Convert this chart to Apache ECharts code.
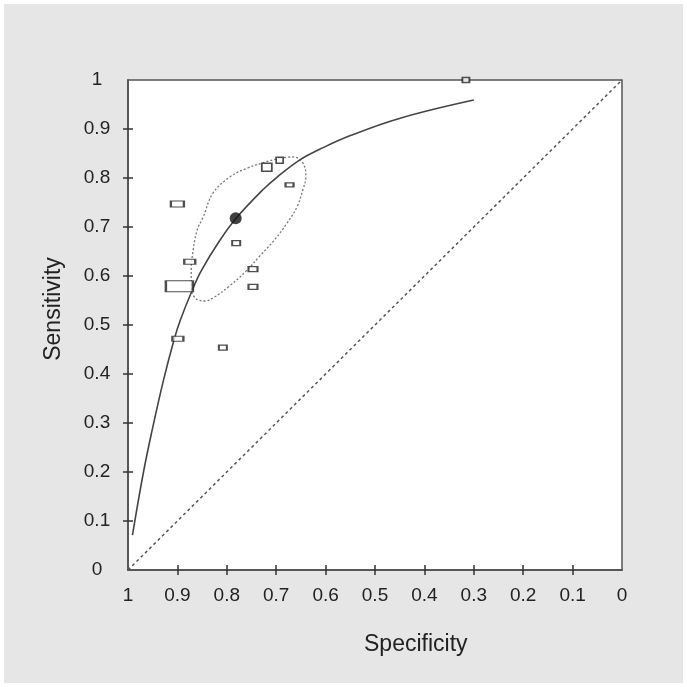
<!DOCTYPE html>
<html>
<head>
<meta charset="utf-8">
<script src="https://cdn.jsdelivr.net/npm/echarts@6/dist/echarts.min.js"></script>
<style>
html,body{margin:0;padding:0;background:#fff;}
#panel{position:absolute;left:4px;top:4px;width:679px;height:679px;background:#e6e6e6;}
#chart{position:absolute;left:0;top:0;width:687px;height:687px;}
</style>
</head>
<body>
<div id="panel"></div>
<div id="chart"></div>
<script>
// Study estimates: specificity, sensitivity, box width/height (study weight)
const studySpec = [0.900, 0.719, 0.693, 0.673, 0.781, 0.875, 0.747, 0.747, 0.896, 0.899, 0.808, 0.316];
const studySens = [0.747, 0.822, 0.836, 0.786, 0.667, 0.629, 0.614, 0.578, 0.579, 0.472, 0.454, 1.000];
const boxW = [13, 10, 7, 8, 8, 11, 9, 9, 27, 11, 8, 7];
const boxH = [6, 8, 6, 4, 5, 5, 5, 5, 11, 5, 5, 5];

// Summary point
const summarySpec = [0.782];
const summarySens = [0.718];

// SROC curve
const curveSpec = [0.991, 0.969, 0.951, 0.928, 0.907, 0.894, 0.870, 0.851, 0.814, 0.781, 0.727, 0.698, 0.652, 0.611, 0.551, 0.449, 0.300];
const curveSens = [0.071, 0.198, 0.286, 0.388, 0.469, 0.510, 0.571, 0.612, 0.673, 0.718, 0.776, 0.802, 0.837, 0.859, 0.886, 0.922, 0.959];

// Confidence region outline
const regionSpec = [0.692, 0.666, 0.646, 0.640, 0.646, 0.658, 0.678, 0.704, 0.733, 0.761, 0.794, 0.828, 0.844, 0.858, 0.868, 0.872, 0.872, 0.868, 0.860, 0.848, 0.828, 0.794, 0.759, 0.727, 0.692];
const regionSens = [0.841, 0.843, 0.831, 0.802, 0.776, 0.741, 0.708, 0.673, 0.641, 0.610, 0.580, 0.555, 0.549, 0.551, 0.561, 0.578, 0.612, 0.653, 0.694, 0.720, 0.769, 0.802, 0.820, 0.831, 0.841];

// Chance line
const chanceSpec = [1, 0];
const chanceSens = [0, 1];

const tickValues = [0.1, 0.2, 0.3, 0.4, 0.5, 0.6, 0.7, 0.8, 0.9];
const xTitle = 'Specificity';
const yTitle = 'Sensitivity';

const zip = (a, b) => a.map((v, i) => [v, b[i]]);
const fmt = v => (v === 0 ? '0' : v === 1 ? '1' : v.toFixed(1));
const FONT = '"Liberation Sans", Arial, sans-serif';
const axisCommon = {
  type: 'value', min: 0, max: 1, interval: 0.1,
  splitLine: { show: false },
  axisLine: { show: true, onZero: false, lineStyle: { color: '#555', width: 1.5 } }
};
const tickStyle = { color: '#333', width: 1.5 };
const gridBox = { left: 128, top: 80, width: 494, height: 490 };

const chart = echarts.init(document.getElementById('chart'));
chart.setOption({
  backgroundColor: 'transparent',
  animation: false,
  grid: [
    Object.assign({ show: true, backgroundColor: '#fff', borderColor: '#555', borderWidth: 1.5 }, gridBox),
    Object.assign({ show: false }, gridBox)
  ],
  xAxis: [
    Object.assign({}, axisCommon, {
      gridIndex: 0, inverse: true, position: 'bottom',
      axisTick: { show: true, inside: true, length: 5, customValues: tickValues, lineStyle: tickStyle },
      axisLabel: { show: true, margin: 16, fontSize: 19, color: '#222', fontFamily: FONT, formatter: fmt }
    }),
    Object.assign({}, axisCommon, {
      gridIndex: 1, inverse: true, position: 'bottom',
      axisTick: { show: true, inside: false, length: 5, customValues: tickValues, lineStyle: tickStyle },
      axisLabel: { show: false }
    })
  ],
  yAxis: [
    Object.assign({}, axisCommon, {
      gridIndex: 0, position: 'left',
      axisTick: { show: true, inside: true, length: 5, customValues: tickValues, lineStyle: tickStyle },
      axisLabel: { show: true, margin: 31, align: 'center', fontSize: 19, color: '#222', fontFamily: FONT, formatter: fmt }
    }),
    Object.assign({}, axisCommon, {
      gridIndex: 1, position: 'left',
      axisTick: { show: true, inside: false, length: 5, customValues: tickValues, lineStyle: tickStyle },
      axisLabel: { show: false }
    })
  ],
  graphic: [
    { type: 'text', left: 364, top: 633, style: { text: xTitle, fontSize: 23, fill: '#222', fontFamily: FONT, align: 'center', verticalAlign: 'middle' } },
    { type: 'text', x: 54, y: 309, rotation: Math.PI / 2, style: { text: yTitle, fontSize: 23, fill: '#222', fontFamily: FONT, align: 'center', verticalAlign: 'middle' } }
  ],
  series: [
    {
      type: 'line', data: zip(chanceSpec, chanceSens), symbol: 'none',
      lineStyle: { color: '#555', width: 1.5, type: [3, 3] }, z: 1
    },
    {
      type: 'line', data: zip(regionSpec, regionSens), symbol: 'none', smooth: 0.4,
      lineStyle: { color: '#777', width: 1.3, type: [2, 2] }, z: 2
    },
    {
      type: 'line', data: zip(curveSpec, curveSens), symbol: 'none', smooth: 0.4,
      lineStyle: { color: '#444', width: 1.6 }, z: 3
    },
    {
      type: 'scatter', clip: false,
      data: studySpec.map((s, i) => ({ value: [s, studySens[i]], symbolSize: [boxW[i], boxH[i]] })),
      symbol: 'rect',
      itemStyle: { color: '#fff', borderColor: '#222', borderWidth: 1.6 }, z: 4
    },
    {
      type: 'scatter', data: zip(summarySpec, summarySens), symbol: 'circle', symbolSize: 12,
      itemStyle: { color: '#111' }, z: 5
    }
  ]
});
</script>
</body>
</html>
